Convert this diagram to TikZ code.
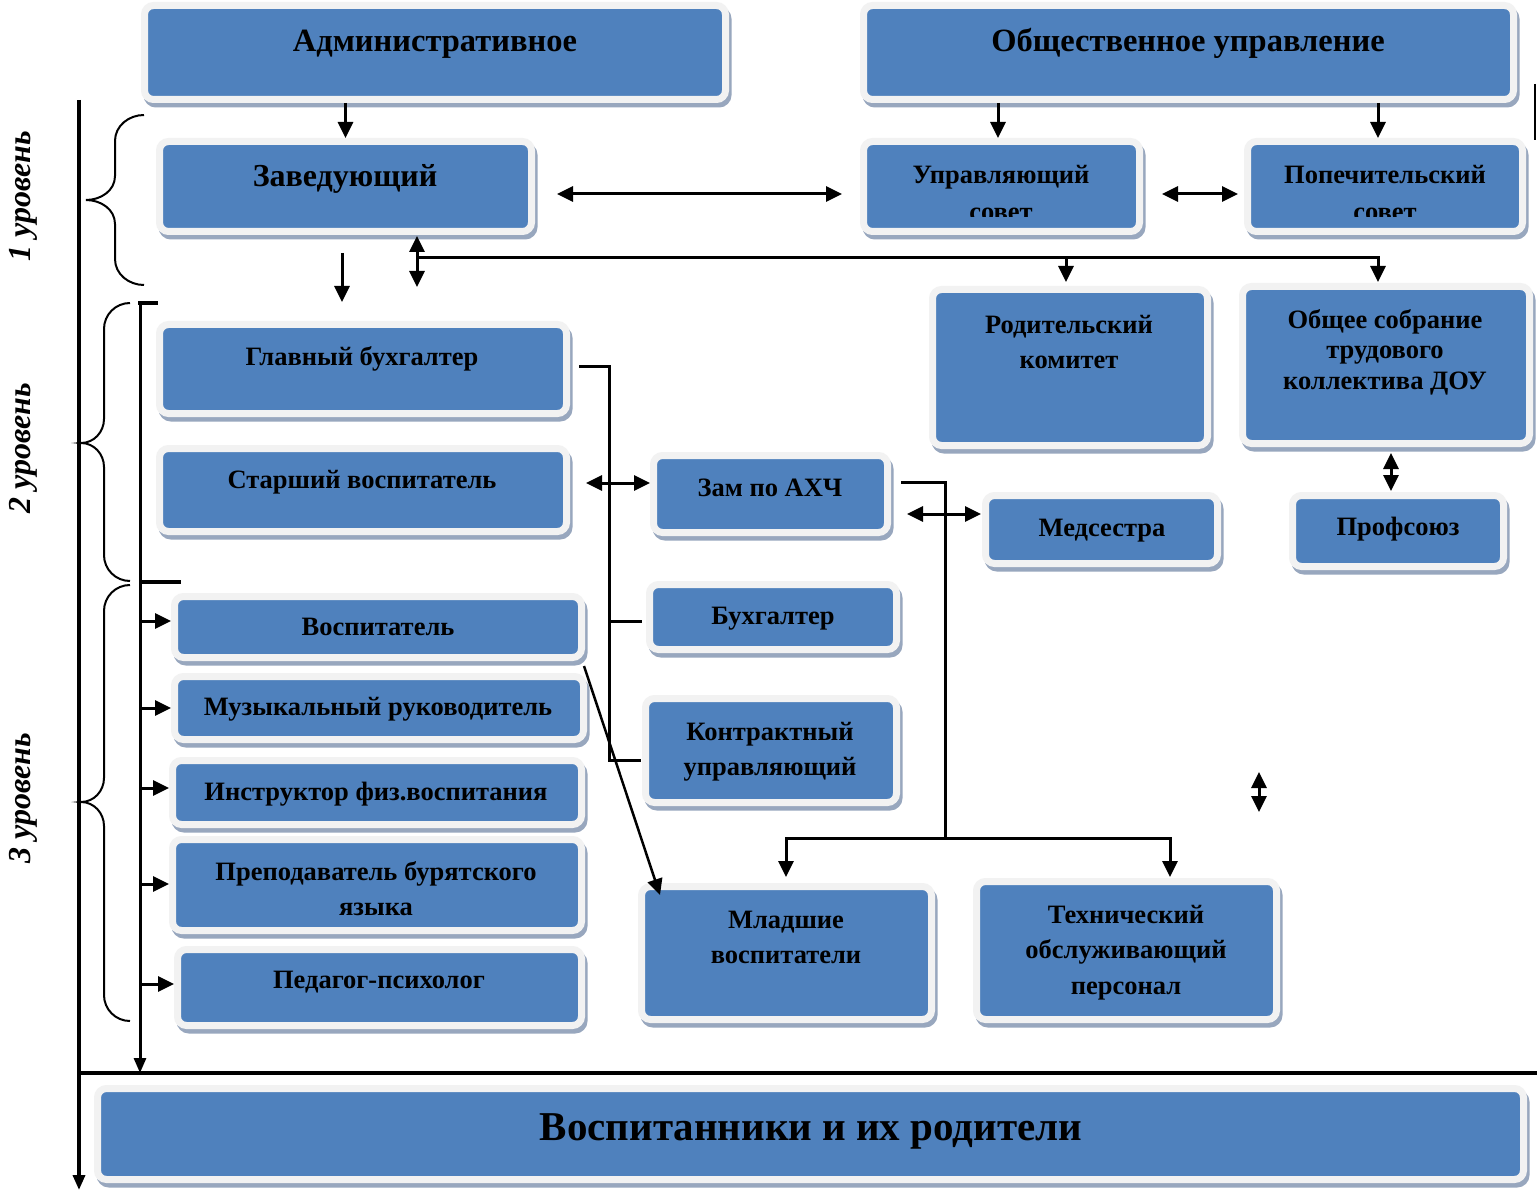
\documentclass[tikz,border=0pt]{standalone}
\usepackage{fontspec}
\setmainfont{Liberation Serif}
\usetikzlibrary{arrows.meta,fit,calc}
\definecolor{boxblue}{HTML}{4F81BD}
\definecolor{framec}{HTML}{F2F2F2}
\definecolor{shadec}{HTML}{98A7BE}
\tikzset{
  bluebox/.style={inner sep=3.5pt, rounded corners=9pt, fill=boxblue, draw=framec, line width=7pt,
    preaction={draw=shadec, fill=shadec, line width=7pt, transform canvas={xshift=2.5pt,yshift=-4.5pt}}},
  txt/.style={anchor=base, inner sep=0pt, text=black},
  fbig/.style={font=\bfseries\fontsize{32.5}{36}\selectfont},
  fzav/.style={font=\bfseries\fontsize{32}{36}\selectfont},
  fmid/.style={font=\bfseries\fontsize{26.5}{30}\selectfont},
  fpup/.style={font=\bfseries\fontsize{41}{44}\selectfont},
  flvl/.style={font=\bfseries\itshape\fontsize{32}{34}\selectfont},
  conn/.style={line width=3pt, draw=black},
  arr/.style={conn, -{Triangle[length=16pt,width=15pt]}},
  darr/.style={conn, {Triangle[length=16pt,width=15pt]}-{Triangle[length=16pt,width=15pt]}},
  axis/.style={line width=3.5pt, draw=black},
  brc/.style={line width=2pt, draw=black},
}
\newcommand\bbox[5]{\node[bluebox, fit={(#2,#3)(#4,#5)}] (#1) {};}
\newcommand\lbl[5]{\node[txt,#4] (#1) at (#2,#3) {#5};}
\newcommand\lvlbrace[6]{% xr yt xs ytip xtip yb
  \draw[brc] (#1,#2) to[out=180,in=90] (#3,#2+26) -- (#3,#4-24) to[out=-90,in=0] (#5,#4)
     to[out=0,in=90] (#3,#4+24) -- (#3,#6-26) to[out=-90,in=180] (#1,#6);}
\begin{document}
\begin{tikzpicture}[x=1pt,y=-1pt]
\useasboundingbox[fill=white] (0,0) rectangle (1537,1190);

% ---------- boxes ----------
\bbox{adm}{148}{9}{722}{96}
\bbox{obs}{867}{9}{1510}{96}
\bbox{zav}{163}{145}{528}{228}
\bbox{upr}{867}{145}{1136}{228}
\bbox{pop}{1251}{145}{1519}{228}
\bbox{rod}{936}{293}{1204}{442}
\bbox{sob}{1246}{290}{1526}{440}
\bbox{glb}{163}{328}{563}{410}
\bbox{stv}{163}{452}{563}{528}
\bbox{zam}{657}{459}{884}{529}
\bbox{med}{989}{499}{1214}{560}
\bbox{prf}{1296}{499}{1500}{563}
\bbox{bux}{653}{588}{893}{646}
\bbox{kon}{649}{702}{893}{799}
\bbox{vos}{178}{600}{578}{654}
\bbox{muz}{178}{680}{580}{736}
\bbox{ins}{176}{764}{578}{821}
\bbox{pre}{176}{843}{578}{927}
\bbox{psy}{181}{953}{578}{1022}
\bbox{mla}{645}{890}{928}{1016}
\bbox{teh}{980}{885}{1273}{1016}
\bbox{pup}{101}{1092}{1520}{1176}

% ---------- texts ----------
\lbl{admT}{435}{52}{fbig}{Административное}
\lbl{obsT}{1188}{52}{fbig}{Общественное управление}
\lbl{zavT}{345}{187}{fzav}{Заведующий}
\lbl{uprT1}{1001}{184}{fmid}{Управляющий}
\lbl{popT1}{1385}{184}{fmid}{Попечительский}
\begin{scope}
  \clip (850,196) rectangle (1530,217);
  \lbl{uprT2}{1001}{221}{fmid}{совет}
  \lbl{popT2}{1385}{221}{fmid}{совет}
\end{scope}
\lbl{rodT1}{1069}{334}{fmid}{Родительский}
\lbl{rodT2}{1069}{368}{fmid}{комитет}
\lbl{sobT1}{1385}{329}{fmid}{Общее собрание}
\lbl{sobT2}{1385}{359}{fmid}{трудового}
\lbl{sobT3}{1385}{389}{fmid}{коллектива ДОУ}
\lbl{glbT}{362}{366}{fmid}{Главный бухгалтер}
\lbl{stvT}{362}{488}{fmid}{Старший воспитатель}
\lbl{zamT}{770}{496}{fmid}{Зам по АХЧ}
\lbl{medT}{1102}{536}{fmid}{Медсестра}
\lbl{prfT}{1398}{535}{fmid}{Профсоюз}
\lbl{buxT}{773}{624}{fmid}{Бухгалтер}
\lbl{konT1}{770}{740}{fmid}{Контрактный}
\lbl{konT2}{770}{775}{fmid}{управляющий}
\lbl{vosT}{378}{635}{fmid}{Воспитатель}
\lbl{muzT}{378}{715}{fmid}{Музыкальный руководитель}
\lbl{insT}{376}{800}{fmid}{Инструктор физ.воспитания}
\lbl{preT1}{376}{880}{fmid}{Преподаватель бурятского}
\lbl{preT2}{376}{915}{fmid}{языка}
\lbl{psyT}{379}{988}{fmid}{Педагог-психолог}
\lbl{mlaT1}{786}{928}{fmid}{Младшие}
\lbl{mlaT2}{786}{963}{fmid}{воспитатели}
\lbl{tehT1}{1126}{923}{fmid}{Технический}
\lbl{tehT2}{1126}{958}{fmid}{обслуживающий}
\lbl{tehT3}{1126}{994}{fmid}{персонал}
\lbl{pupT}{811}{1140}{fpup}{Воспитанники и их родители}

% ---------- level labels ----------
\node[flvl, rotate=90, inner sep=0pt] (lv1) at (23,196) {1 уровень};
\node[flvl, rotate=90, inner sep=0pt] (lv2) at (23,448) {2 уровень};
\node[flvl, rotate=90, inner sep=0pt] (lv3) at (23,798) {3 уровень};

% ---------- braces ----------
\lvlbrace{144}{115}{115}{200}{86}{285}
\lvlbrace{130}{303}{104}{443}{81}{581}
\lvlbrace{130}{585}{104}{802}{81}{1021}

% ---------- axes ----------
\coordinate (axTop) at (79,100);
\coordinate (axBot) at (79,1190);
\draw[axis, -{Triangle[length=15pt,width=12pt]}] (axTop) -- (axBot);
\coordinate (hzL) at (79,1073);
\coordinate (hzR) at (1537,1073);
\draw[axis] (hzL) -- (hzR);
\coordinate (l2top) at (140,303);
\coordinate (l2bot) at (140,1073);
\draw[conn, -{Triangle[length=15pt,width=12pt]}] (l2top) -- (l2bot);
\draw[line width=4.5pt] (138,303) -- (158,303);
\coordinate (l3tick) at (140,582);
\draw[line width=4pt] (l3tick) -- (181,582);
\foreach \n/\y in {vos/621, muz/708, ins/788, pre/884, psy/984}
  \draw[arr] (140,\y) -- (\n.west |- 0,\y);

% ---------- connectors ----------
\draw[arr] (zav.north |- adm.south) -- (zav.north);
\draw[arr] (obs.south -| 998,0) -- (upr.north -| 998,0);
\draw[arr] (obs.south -| 1378,0) -- (pop.north -| 1378,0);
\draw[darr, shorten <=22pt, shorten >=18pt] (zav.east |- 0,194) -- (upr.west |- 0,194);
\draw[darr, shorten <=19pt, shorten >=6pt] (upr.east |- 0,194) -- (pop.west |- 0,194);
\coordinate (zavDown) at (342,302);
\draw[arr, shorten <=18pt] (zav.south -| 342,0) -- (zavDown);
\coordinate (pdown) at (417,287);
\draw[darr, shorten <=1pt] (zav.south -| 417,0) -- (pdown);
\coordinate (pj) at (417,258);
\draw[arr, shorten >=1pt] (pj) -| (sob.north -| 1378,0);
\draw[arr, shorten >=4pt] (pj -| 1066,0) -- (rod.north -| 1066,0);
\draw[darr, shorten <=6pt, shorten >=1pt] (sob.south -| 1391,0) -- (prf.north -| 1391,0);

\coordinate (glbV) at (609,762);
\draw[conn, shorten <=9pt] (glb.east |- 0,366) -| (glbV);
\draw[conn, shorten >=4pt] (609,621) -- (bux.west |- 0,621);
\draw[conn, shorten >=1pt] (609,760) -- (kon.west |- 0,760);
\draw[darr, shorten <=16pt] (stv.east |- 0,483) -- (zam.west |- 0,483);

\coordinate (zamJ) at (945,838);
\draw[conn, shorten <=10pt] (zam.east |- 0,482) -| (zamJ);
\draw[arr, shorten >=6pt] (zamJ) -| (mla.north -| 786,0);
\draw[arr, shorten >=1pt] (zamJ) -| (teh.north -| 1170,0);
\coordinate (medL) at (907,514);
\draw[darr, shorten >=1pt] (medL) -- (med.west |- 0,514);

\coordinate (diagA) at (584,666);
\coordinate (diagB) at (660,895);
\draw[arr, line width=2.5pt] (diagA) -- (diagB);

\coordinate (strayA) at (1259,772);
\coordinate (strayB) at (1259,812);
\draw[darr] (strayA) -- (strayB);

\coordinate (edgeA) at (1535,84);
\coordinate (edgeB) at (1535,140);
\draw[line width=1.5pt] (edgeA) -- (edgeB);
\end{tikzpicture}
\end{document}
